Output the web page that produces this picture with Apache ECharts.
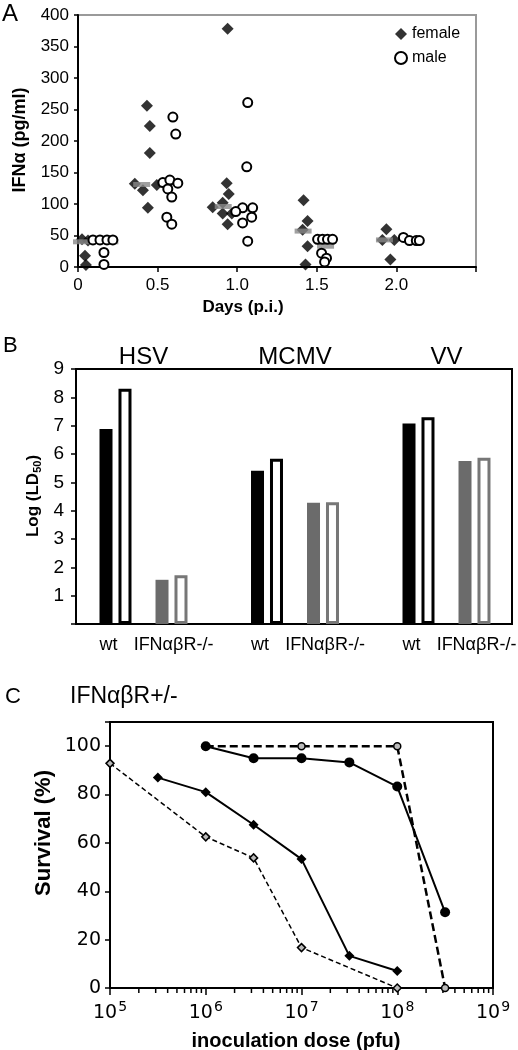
<!DOCTYPE html>
<html><head><meta charset="utf-8">
<script src="https://cdn.jsdelivr.net/npm/echarts@6/dist/echarts.min.js"></script>
<style>html,body{margin:0;padding:0;background:#fff}#c{width:518px;height:1050px}</style>
</head><body><div id="c"></div>
<script>
// ================= DATA =================
// Panel A: IFN-alpha (pg/ml) by day p.i.
const daysA = [0, 0.5, 1.0, 1.5, 2.0];
const femaleA = [
  [43, 44, 42, 18, 3],
  [256, 224, 181, 132, 122, 130, 94],
  [378, 133, 116, 102, 95, 85, 85, 68],
  [106, 73, 59, 33, 4],
  [60, 43, 43, 12]
];
const maleA = [
  [43, 43, 43, 43, 23, 4],
  [238, 211, 134, 138, 133, 124, 111, 79, 68],
  [261, 159, 94, 94, 88, 79, 70, 41],
  [44, 44, 44, 44, 22, 14, 8],
  [47, 42, 42, 42]
];
const femaleMedianA = [40, 131, 96, 57, 43];
const maleMedianA = [40, 133, 92, 33, 43];

// Panel B: Log(LD50)
const virusesB = ['HSV', 'MCMV', 'VV'];
const hostsB = ['wt', 'IFNαβR-/-'];
const filledB = [[6.88, 1.56], [5.41, 4.28], [7.08, 5.75]];
const openB = [[8.3, 1.72], [5.83, 4.3], [7.3, 5.87]];

// Panel C: survival (%) vs inoculation dose (pfu)
const doseC1 = [1e6, 3.16e6, 1e7, 3.16e7, 1e8, 3.16e8];
const survC1 = [100, 95, 95, 93.3, 83.3, 31.3];
const doseC2 = [1e6, 1e7, 1e8, 3.16e8];
const survC2 = [100, 100, 100, 0];
const doseC3 = [3.16e5, 1e6, 3.16e6, 1e7, 3.16e7, 1e8];
const survC3 = [87, 81, 67.5, 53.3, 13.3, 7];
const doseC4 = [1e5, 1e6, 3.16e6, 1e7, 1e8];
const survC4 = [92.9, 62.5, 53.8, 16.7, 0];

// ================= LAYOUT (jitter of the dot plot, in days) =================
const jitterF = [
  [-0.02, 0.025, 0.063, 0.044, 0.05],
  [-0.067, -0.049, -0.049, -0.143, -0.092, -0.005, -0.061],
  [-0.06, -0.066, -0.053, -0.091, -0.154, -0.091, -0.034, -0.06],
  [-0.083, -0.058, -0.089, -0.058, -0.071],
  [-0.063, -0.088, -0.013, -0.038]
];
const jitterM = [
  [0.094, 0.138, 0.182, 0.219, 0.163, 0.163],
  [0.096, 0.114, 0.033, 0.077, 0.127, 0.064, 0.089, 0.058, 0.089],
  [0.066, 0.06, 0.034, 0.097, -0.009, 0.091, 0.034, 0.066],
  [0.005, 0.036, 0.067, 0.099, 0.03, 0.061, 0.049],
  [0.044, 0.082, 0.125, 0.144]
];
const medOffF = [0.022, -0.1, -0.088, -0.086, -0.075];
const medOffM = [0.2, 0.089, 0.047, 0.055, 0.12];

const FONT = "'Liberation Sans', Arial, Helvetica, sans-serif";
const FONT_C = "'DejaVu Sans', Verdana, sans-serif";

const femalePts = [], malePts = [], femaleMed = [], maleMed = [];
daysA.forEach((d, i) => {
  femaleA[i].forEach((v, j) => femalePts.push([d + jitterF[i][j], v]));
  maleA[i].forEach((v, j) => malePts.push([d + jitterM[i][j], v]));
  femaleMed.push([d + medOffF[i], femaleMedianA[i]]);
  maleMed.push([d + medOffM[i], maleMedianA[i]]);
});

const minorTicks = [];
for (let n = 5; n <= 8; n++) for (let k = 2; k <= 9; k++) minorTicks.push([k * Math.pow(10, n), 0]);

const zip = (a, b) => a.map((x, i) => [x, b[i]]);

// Grids
const gA = { left: 78, top: 15, width: 398, height: 252 };
const gB = { left: 76, top: 369, width: 436, height: 255 };
const subW = 112, subLefts = [87.5, 239, 390.5];
const gC = { left: 110, top: 722, width: 383, height: 266 };

const grids = [
  Object.assign({ show: true, borderColor: '#9a9a9a', borderWidth: 2 }, gA),
  Object.assign({ show: true, borderColor: '#000', borderWidth: 2 }, gB),
  ...subLefts.map(l => ({ left: l, top: gB.top, width: subW, height: gB.height })),
  Object.assign({ show: true, borderColor: '#000', borderWidth: 2 }, gC)
];

const blackLine = { show: true, onZero: false, lineStyle: { color: '#000', width: 2 } };

const xAxes = [
  { gridIndex: 0, type: 'value', min: 0, max: 2.5, interval: 0.5, axisLine: blackLine,
    axisTick: { show: true, length: 5, lineStyle: { color: '#000', width: 1.5 } },
    axisLabel: { color: '#000', fontFamily: FONT, fontSize: 17, margin: 10,
      formatter: v => v === 0 ? '0' : (v >= 2.5 ? '' : v.toFixed(1)) },
    splitLine: { show: false } },
  { gridIndex: 1, type: 'value', min: 0, max: 1, show: false },
  ...virusesB.map((_, i) => ({ gridIndex: 2 + i, type: 'category', data: hostsB,
    axisLine: { show: false }, axisTick: { show: false }, axisLabel: { show: false } })),
  { gridIndex: 5, type: 'log', logBase: 10, min: 1e5, max: 1e9, axisLine: blackLine,
    axisTick: { show: true, length: 7, lineStyle: { color: '#000', width: 1.5 } },
    minorTick: { show: false }, splitLine: { show: false }, minorSplitLine: { show: false },
    axisLabel: { color: '#000', margin: 12,
      formatter: v => '{b|10}{sup|' + Math.round(Math.log10(v)) + '}',
      rich: { b: { fontFamily: FONT_C, fontSize: 19, color: '#000' },
              sup: { fontFamily: FONT_C, fontSize: 14, color: '#000', padding: [0, 0, 12, 1] } } } }
];

const yAxes = [
  { gridIndex: 0, type: 'value', min: 0, max: 400, interval: 50, axisLine: blackLine,
    axisTick: { show: true, length: 4, lineStyle: { color: '#000', width: 1.5 } },
    axisLabel: { color: '#000', fontFamily: FONT, fontSize: 17, margin: 9 },
    splitLine: { show: false } },
  { gridIndex: 1, type: 'value', min: 0, max: 9, interval: 1, axisLine: blackLine,
    axisTick: { show: true, length: 5, lineStyle: { color: '#000', width: 1.5 } },
    axisLabel: { color: '#000', fontFamily: FONT, fontSize: 19, margin: 12, formatter: v => v === 0 ? '' : String(v) },
    splitLine: { show: false } },
  ...virusesB.map((_, i) => ({ gridIndex: 2 + i, type: 'value', min: 0, max: 9, show: false })),
  { gridIndex: 5, type: 'value', min: 0, max: 110, interval: 20, axisLine: blackLine,
    axisTick: { show: true, length: 5, lineStyle: { color: '#000', width: 1.5 } },
    axisLabel: { color: '#000', fontFamily: FONT_C, fontSize: 19, margin: 9, formatter: v => v <= 100 ? String(v) : '' },
    splitLine: { show: false } }
];

const series = [
  { name: 'female', type: 'scatter', xAxisIndex: 0, yAxisIndex: 0, data: femalePts, symbol: 'diamond', symbolSize: 12,
    itemStyle: { color: '#000' }, z: 2 },
  { name: 'femaleMedian', type: 'scatter', xAxisIndex: 0, yAxisIndex: 0, data: femaleMed, symbol: 'rect', symbolSize: [17, 5],
    itemStyle: { color: '#888' }, z: 3 },
  { name: 'maleMedian', type: 'scatter', xAxisIndex: 0, yAxisIndex: 0, data: maleMed, symbol: 'rect', symbolSize: [17, 5],
    itemStyle: { color: '#888' }, z: 3 },
  { name: 'male', type: 'scatter', xAxisIndex: 0, yAxisIndex: 0, data: malePts, symbol: 'circle', symbolSize: 9,
    itemStyle: { color: '#fff', borderColor: '#000', borderWidth: 2, opacity: 1 }, z: 4 }
];

virusesB.forEach((_, i) => {
  series.push({ name: 'filled' + i, type: 'bar', xAxisIndex: 2 + i, yAxisIndex: 2 + i, barWidth: 13, barGap: '46%',
    data: filledB[i].map((v, j) => ({ value: v, itemStyle: { color: j === 0 ? '#000' : '#6b6b6b' } })) });
  series.push({ name: 'open' + i, type: 'bar', xAxisIndex: 2 + i, yAxisIndex: 2 + i, barWidth: 13, barGap: '46%',
    data: openB[i].map((v, j) => ({ value: v, itemStyle: { color: '#fff', borderColor: j === 0 ? '#000' : '#777', borderWidth: 3 } })) });
});

series.push(
  { name: 'c1', type: 'line', xAxisIndex: 5, yAxisIndex: 5, data: zip(doseC1, survC1), symbol: 'circle', symbolSize: 10,
    showAllSymbol: true, lineStyle: { color: '#000', width: 2 }, itemStyle: { color: '#000' }, z: 3 },
  { name: 'c2', type: 'line', xAxisIndex: 5, yAxisIndex: 5, data: zip(doseC2, survC2), symbol: 'circle', symbolSize: 7,
    showAllSymbol: true, lineStyle: { color: '#000', width: 2.5, type: [8, 4] },
    itemStyle: { color: '#bbb', borderColor: '#000', borderWidth: 1.5 }, z: 2 },
  { name: 'c3', type: 'line', xAxisIndex: 5, yAxisIndex: 5, data: zip(doseC3, survC3), symbol: 'diamond', symbolSize: 10,
    showAllSymbol: true, lineStyle: { color: '#000', width: 2 }, itemStyle: { color: '#000' }, z: 3 },
  { name: 'c4', type: 'line', xAxisIndex: 5, yAxisIndex: 5, data: zip(doseC4, survC4), symbol: 'diamond', symbolSize: 8,
    showAllSymbol: true, lineStyle: { color: '#000', width: 1.5, type: [5, 3] },
    itemStyle: { color: '#bbb', borderColor: '#000', borderWidth: 1.5 }, z: 2 },
  { name: 'minorTicks', type: 'custom', xAxisIndex: 5, yAxisIndex: 5, silent: true, clip: false, data: minorTicks,
    encode: { x: 0, y: 1 },
    renderItem: (params, api) => {
      const p = api.coord([api.value(0), 0]);
      return { type: 'line', shape: { x1: p[0], y1: p[1] - 1, x2: p[0], y2: p[1] + 5 },
        style: { stroke: '#000', lineWidth: 1.5 } };
    } }
);

function txt(text, x, y, size, opts) {
  opts = opts || {};
  return { type: 'text', x: x, y: y, rotation: opts.rot || 0, z: 100,
    style: { text: text, fill: '#000', fontFamily: opts.family || FONT, fontSize: size,
      fontWeight: opts.bold ? 'bold' : 'normal', align: opts.align || 'center', verticalAlign: 'middle',
      textAlign: opts.align || 'center', textVerticalAlign: 'middle', rich: opts.rich } };
}

// category labels of panel B (centred under each wt / IFNαβR-/- pair)
const hostLabelShift = [-7, 2];
const hostLabels = [];
virusesB.forEach((_, i) => hostsB.forEach((h, j) => {
  hostLabels.push(txt(h, subLefts[i] + subW * (0.25 + 0.5 * j) + hostLabelShift[j], 645, 18));
}));

const graphic = [
  txt('A', 2, 14, 24, { align: 'left' }),
  txt('IFNα (pg/ml)', 20, 140, 18, { bold: true, rot: Math.PI / 2 }),
  txt('Days (p.i.)', 243, 307, 17, { bold: true }),
  txt('B', 3, 346, 22, { align: 'left' }),
  ...virusesB.map((v, i) => txt(v, subLefts[i] + subW / 2, 357, 24)),
  ...hostLabels,
  txt('{n|Log (LD}{sub|50}{n|)}', 33, 496, 17, { bold: true, rot: Math.PI / 2,
    rich: { n: { fontFamily: FONT, fontSize: 17, fontWeight: 'bold', fill: '#000' },
            sub: { fontFamily: FONT, fontSize: 11, fontWeight: 'bold', fill: '#000', padding: [9, 0, 0, 0] } } }),
  txt('C', 5, 697, 22, { align: 'left' }),
  txt('IFNαβR+/-', 70, 697, 23, { align: 'left' }),
  txt('Survival (%)', 44, 833, 22, { bold: true, rot: Math.PI / 2 }),
  txt('inoculation dose (pfu)', 296, 1041, 20, { bold: true })
];

const chart = echarts.init(document.getElementById('c'), null, { renderer: 'canvas', width: 518, height: 1050 });
chart.setOption({
  animation: false,
  backgroundColor: '#fff',
  legend: { data: ['female', 'male'], orient: 'vertical', left: 394, top: 26, itemWidth: 12, itemHeight: 12, itemGap: 8,
    padding: 0, selectedMode: false, textStyle: { fontFamily: FONT, fontSize: 16, color: '#000' } },
  grid: grids,
  xAxis: xAxes,
  yAxis: yAxes,
  series: series,
  graphic: graphic
});
</script></body></html>
